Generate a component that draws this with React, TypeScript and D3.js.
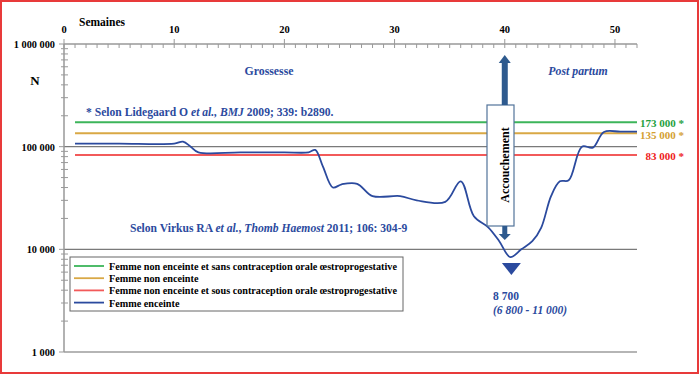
import React, { useEffect, useRef } from 'react';
import * as d3 from 'd3';

// weeks (x) and N (y)
const weeks = [1, 5, 10, 10.8, 11.5, 12.2, 16, 20, 22.2, 22.8, 23.5, 24.4, 25.2, 26.6, 28, 30.5, 32, 34.6, 36, 37.2, 38.5, 39.5, 40.5, 41.5, 42.5, 43.3, 44.2, 45, 45.8, 47, 48, 49, 50.5, 52];
const pregnant = [107000, 107000, 107000, 112000, 100000, 88000, 88000, 88000, 88000, 93000, 64000, 40000, 43000, 43500, 33000, 33000, 30000, 29000, 46000, 21000, 16400, 12000, 8400, 10000, 12000, 16200, 33000, 46000, 47000, 100000, 98000, 139000, 140000, 140000];

const refLabels = ['Femme non enceinte et sans contraception orale œstroprogestative', 'Femme non enceinte', 'Femme non enceinte et sous contraception orale œstroprogestative', 'Femme enceinte'];
const refValues = [173000, 135000, 83000];
const refText = ['173 000 *', '135 000 *', '83 000 *'];
const colors = ['#3cb55a', '#d9a845', '#f25a5a', '#2b4a9e'];
const textColors = ['#1fa040', '#d4a032', '#ee2020'];

const xTicks = [0, 10, 20, 30, 40, 50];
const yTicks = [1000, 10000, 100000, 1000000];
const yTickText = ['1 000', '10 000', '100 000', '1 000 000'];

const W = 700, H = 375;
const BLUE = '#2b4a9e';
const FONT = '"Liberation Serif", "Times New Roman", serif';

export default function App() {
  const ref = useRef<SVGSVGElement>(null);

  useEffect(() => {
    if (!ref.current) return;
    const svg = d3.select(ref.current);
    svg.selectAll('*').remove();

    const x = d3.scaleLinear().domain([0, 52]).range([64, 637]);
    const y = d3.scaleLog().domain([1000, 1000000]).range([352, 44]);

    svg.append('rect').attr('x', 1).attr('y', 1).attr('width', W - 3).attr('height', H - 3)
      .attr('fill', 'white').attr('stroke', '#e83a3a').attr('stroke-width', 2);

    const g = svg.append('g').style('font-family', FONT).style('font-weight', 'bold');

    // gridlines at 10 000, 100 000 and bottom at 1 000
    g.append('line').attr('x1', x(0)).attr('x2', x(52)).attr('y1', y(100000)).attr('y2', y(100000))
      .attr('stroke', '#7a7a7a').attr('stroke-width', 1.2);
    g.append('line').attr('x1', x(0)).attr('x2', x(52)).attr('y1', y(10000)).attr('y2', y(10000))
      .attr('stroke', '#7a7a7a').attr('stroke-width', 1.2);
    g.append('line').attr('x1', x(0)).attr('x2', x(52)).attr('y1', y(1000)).attr('y2', y(1000))
      .attr('stroke', '#b5b5b5').attr('stroke-width', 2);

    // top axis
    g.append('line').attr('x1', x(0)).attr('x2', x(52)).attr('y1', y(1e6)).attr('y2', y(1e6))
      .attr('stroke', '#999').attr('stroke-width', 1.5);
    d3.range(0, 53).forEach(w => {
      const major = w % 10 === 0;
      g.append('line').attr('x1', x(w)).attr('x2', x(w))
        .attr('y1', y(1e6) - (major ? 5 : 0)).attr('y2', y(1e6) + 4)
        .attr('stroke', '#999').attr('stroke-width', 1);
    });
    g.selectAll('.xt').data(xTicks).enter().append('text')
      .attr('x', d => x(d)).attr('y', 33).attr('text-anchor', 'middle')
      .attr('font-size', 10.5).text(d => d);
    g.append('text').attr('x', 79).attr('y', 26).attr('font-size', 11.5).text('Semaines');

    // left axis
    g.append('line').attr('x1', x(0)).attr('x2', x(0)).attr('y1', y(1e6)).attr('y2', y(1000))
      .attr('stroke', '#999').attr('stroke-width', 1.5);
    [1000, 10000, 100000].forEach(dec => {
      d3.range(2, 10).forEach(m => {
        g.append('line').attr('x1', x(0) - 3).attr('x2', x(0) + 4)
          .attr('y1', y(dec * m)).attr('y2', y(dec * m)).attr('stroke', '#999').attr('stroke-width', 1);
      });
    });
    yTicks.forEach((v, i) => {
      g.append('line').attr('x1', x(0) - 5).attr('x2', x(0)).attr('y1', y(v)).attr('y2', y(v))
        .attr('stroke', '#999').attr('stroke-width', 1);
      g.append('text').attr('x', 55).attr('y', y(v) + 4).attr('text-anchor', 'end')
        .attr('font-size', 10.3).text(yTickText[i]);
    });
    g.append('text').attr('x', 35).attr('y', 85).attr('text-anchor', 'middle').attr('font-size', 13).text('N');

    // reference lines
    const labelDy = [4.5, 6, 5];
    refValues.forEach((v, i) => {
      g.append('line').attr('x1', x(1)).attr('x2', x(52)).attr('y1', y(v)).attr('y2', y(v))
        .attr('stroke', colors[i]).attr('stroke-width', 2);
      g.append('text').attr('x', 684).attr('y', y(v) + labelDy[i]).attr('text-anchor', 'end')
        .attr('font-size', 11).attr('fill', textColors[i])
        .text(refText[i]);
    });

    // pregnant curve
    const line = d3.line<number>()
      .x((_, i) => x(weeks[i]))
      .y(d => y(d))
      .curve(d3.curveCatmullRom.alpha(0.5));
    g.append('path').attr('d', line(pregnant) ?? '').attr('fill', 'none')
      .attr('stroke', colors[3]).attr('stroke-width', 1.8);

    // delivery box and arrows
    const ax = x(40);
    g.append('rect').attr('x', 487).attr('y', 105).attr('width', 27).attr('height', 121)
      .attr('fill', 'white').attr('stroke', '#52739a').attr('stroke-width', 1.2);
    g.append('text').attr('transform', `translate(${ax + 4},165) rotate(-90)`)
      .attr('text-anchor', 'middle').attr('font-size', 12).text('Accouchement');
    g.append('rect').attr('x', ax - 3).attr('y', 63).attr('width', 6).attr('height', 42).attr('fill', '#2e5a8e');
    g.append('path').attr('d', `M${ax - 6},63 L${ax + 6},63 L${ax},55 Z`).attr('fill', '#2e5a8e');
    g.append('rect').attr('x', ax - 2.5).attr('y', 226).attr('width', 5).attr('height', 8).attr('fill', '#2e5a8e');
    g.append('path').attr('d', `M${ax - 6},234 L${ax + 6},234 L${ax},240 Z`).attr('fill', '#2e5a8e');

    // minimum marker
    const mx = x(40.6);
    g.append('path').attr('d', `M${mx - 9.5},263 L${mx + 9.5},263 L${mx},275 Z`).attr('fill', BLUE);
    g.append('text').attr('x', 493).attr('y', 300).attr('font-size', 11.5).attr('fill', BLUE).text('8 700');
    g.append('text').attr('x', 493).attr('y', 314).attr('font-size', 11.5).attr('font-style', 'italic')
      .attr('fill', BLUE).text('(6 800 - 11 000)');

    // annotations
    g.append('text').attr('x', 269).attr('y', 75).attr('text-anchor', 'middle').attr('font-size', 11.8)
      .attr('fill', BLUE).text('Grossesse');
    g.append('text').attr('x', 578).attr('y', 75).attr('text-anchor', 'middle').attr('font-size', 11.8)
      .attr('font-style', 'italic').attr('fill', BLUE).text('Post partum');

    const t1 = g.append('text').attr('x', 86).attr('y', 116).attr('font-size', 11.6).attr('fill', BLUE);
    t1.append('tspan').text('* Selon Lidegaard O ');
    t1.append('tspan').attr('font-style', 'italic').text('et al., BMJ');
    t1.append('tspan').text(' 2009; 339: b2890.');

    const t2 = g.append('text').attr('x', 130).attr('y', 232).attr('font-size', 11.6).attr('fill', BLUE);
    t2.append('tspan').text('Selon Virkus RA ');
    t2.append('tspan').attr('font-style', 'italic').text('et al.');
    t2.append('tspan').text(', ');
    t2.append('tspan').attr('font-style', 'italic').text('Thomb Haemost');
    t2.append('tspan').text(' 2011; 106: 304-9');

    // legend
    g.append('rect').attr('x', 70).attr('y', 257).attr('width', 333).attr('height', 54)
      .attr('fill', 'white').attr('stroke', '#666').attr('stroke-width', 1);
    refLabels.forEach((lab, i) => {
      const ly = 266 + i * 12.2;
      g.append('line').attr('x1', 74).attr('x2', 104).attr('y1', ly).attr('y2', ly)
        .attr('stroke', colors[i]).attr('stroke-width', 1.8);
      g.append('text').attr('x', 109).attr('y', ly + 4).attr('font-size', 10.2).text(lab);
    });
  }, []);

  return (
    <svg ref={ref} width={W} height={H} style={{ position: 'absolute', left: 0, top: 0 }} />
  );
}
